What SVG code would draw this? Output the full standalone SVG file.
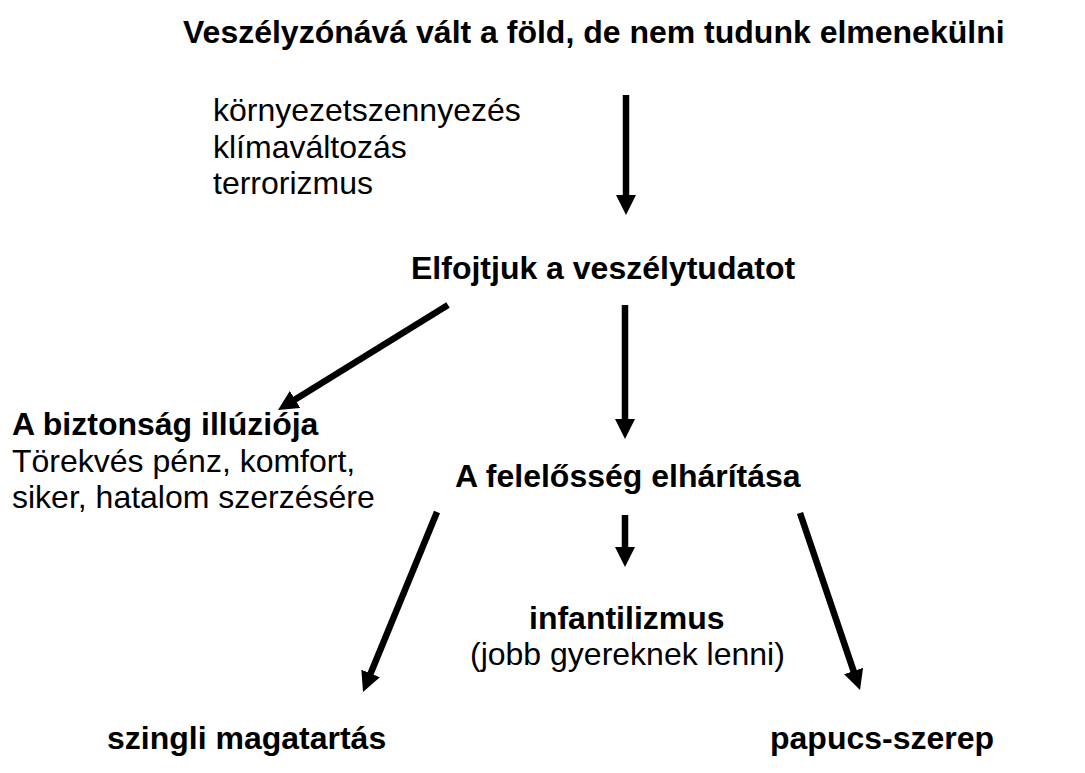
<svg xmlns="http://www.w3.org/2000/svg" width="1085" height="773" viewBox="0 0 1085 773">
<style>
text{font-family:"Liberation Sans",Arial,sans-serif;font-size:32px;fill:#000}
.b{font-weight:bold}
.arr{stroke:#000;stroke-width:6.5;fill:none;marker-end:url(#ah)}
</style>
<defs>
<marker id="ah" markerUnits="userSpaceOnUse" markerWidth="20" markerHeight="20" viewBox="0 0 20 20" refX="9" refY="10" orient="auto">
<path d="M0,0 L20,10 L0,20 z" fill="#000"/>
</marker>
</defs>
<rect width="1085" height="773" fill="#fff"/>
<g id="title"><text class="b" x="183" y="43">Veszélyzónává vált a föld, de nem tudunk elmenekülni</text></g>
<g id="dangers">
<text x="213" y="121">környezetszennyezés</text>
<text x="213" y="158">klímaváltozás</text>
<text x="213" y="194">terrorizmus</text>
</g>
<g id="elfojtjuk"><text class="b" x="411" y="279">Elfojtjuk a veszélytudatot</text></g>
<g id="biztonsag">
<text class="b" x="12" y="435">A biztonság illúziója</text>
<text x="12" y="472">Törekvés pénz, komfort,</text>
<text x="12" y="508">siker, hatalom szerzésére</text>
</g>
<g id="felelosseg"><text class="b" x="455" y="487">A felelősség elhárítása</text></g>
<g id="infantilizmus">
<text class="b" x="529" y="629">infantilizmus</text>
<text x="470" y="665">(jobb gyereknek lenni)</text>
</g>
<g id="szingli"><text class="b" x="107" y="749">szingli magatartás</text></g>
<g id="papucs"><text class="b" x="770" y="749">papucs-szerep</text></g>
<g id="connectors">
<line class="arr" x1="626" y1="95" x2="626" y2="204"/>
<line class="arr" x1="448" y1="305" x2="287.4" y2="404.2"/>
<line class="arr" x1="625" y1="305" x2="625" y2="428"/>
<line class="arr" x1="437" y1="512" x2="367.2" y2="681.8"/>
<line class="arr" x1="625" y1="515" x2="625" y2="556"/>
<line class="arr" x1="800" y1="513" x2="856.5" y2="679.6"/>
</g>
</svg>
